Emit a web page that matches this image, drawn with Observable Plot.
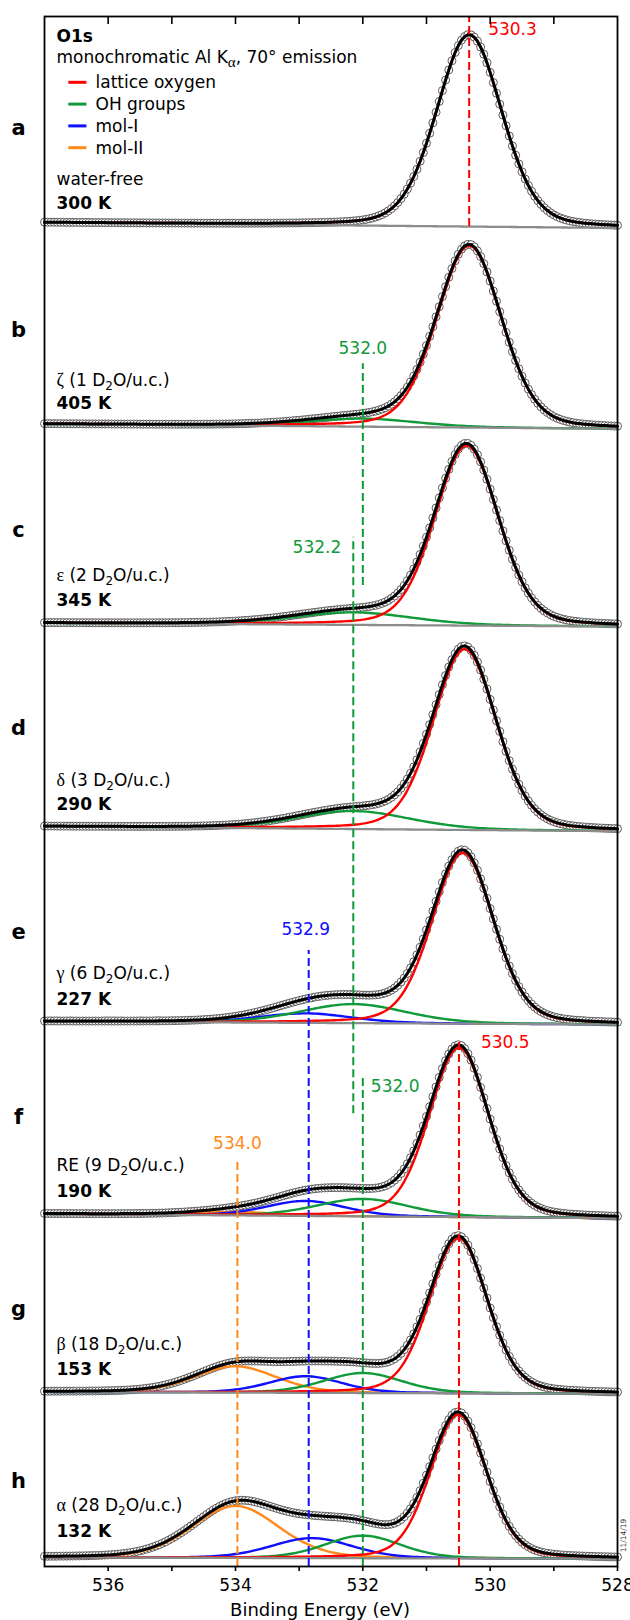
<!DOCTYPE html>
<html>
<head>
<meta charset="utf-8">
<script src="https://cdn.jsdelivr.net/npm/d3@7"></script>
<script src="https://cdn.jsdelivr.net/npm/@observablehq/plot@0.6"></script>
<style>
  html, body { margin: 0; padding: 0; background: #fff; }
  svg { display: block; }
</style>
</head>
<body>
<div id="chart"></div>
<script>
// ---------------- data ----------------
const panels = ["a", "b", "c", "d", "e", "f", "g", "h"];
const samples = ["water-free", "ζ (1 D2O/u.c.)", "ε (2 D2O/u.c.)", "δ (3 D2O/u.c.)",
                 "γ (6 D2O/u.c.)", "RE (9 D2O/u.c.)", "β (18 D2O/u.c.)", "α (28 D2O/u.c.)"];
const temperatures = ["300 K", "405 K", "345 K", "290 K", "227 K", "190 K", "153 K", "132 K"];

// stacked intensity (arbitrary units) of the background at 537 eV and at 528 eV
const backgroundStart = [1344, 1142.5, 943.5, 740, 545, 352.5, 174.5, 9];
const backgroundEnd   = [1338.5, 1137.7, 940, 735.3, 542, 348.3, 172.7, 7.7];

// fitted components: centre (eV), height (a.u.), FWHM (eV)
const latticeCenter = [530.33, 530.33, 530.37, 530.40, 530.43, 530.49, 530.50, 530.50];
const latticeHeight = [192, 182, 180, 181, 171, 169.5, 155.5, 144];
const latticeWidth  = [1.21, 1.2, 1.18, 1.17, 1.14, 1.1, 1.07, 1.04];

const ohCenter = [null, 532.0, 532.15, 532.15, 532.15, 532.0, 532.0, 532.0];
const ohHeight = [0, 8, 12.5, 18, 19, 17.4, 20, 22.6];
const ohWidth  = [null, 2.0, 2.2, 2.1, 1.95, 1.7, 1.45, 1.4];

const mol1Center = [null, null, null, null, 532.9, 532.9, 532.9, 532.8];
const mol1Height = [0, 0, 0, 0, 9.5, 15, 16.6, 20];
const mol1Width  = [null, null, null, null, 1.7, 1.45, 1.35, 1.5];

const mol2Center = [null, null, null, null, null, 534.0, 534.0, 534.0];
const mol2Height = [0, 0, 0, 0, 0, 3.5, 26.3, 52];
const mol2Width  = [null, null, null, null, null, 1.5, 1.5, 1.6];

const componentNames = ["lattice oxygen", "OH groups", "mol-I", "mol-II"];

// marked peak positions
const markerEnergy = [530.33, 532.0, 532.15, 532.85, 530.49, 532.0, 533.97];
const markerText = ["530.3", "532.0", "532.2", "532.9", "530.5", "532.0", "534.0"];
const markerComponent = ["lattice oxygen", "OH groups", "OH groups", "mol-I", "lattice oxygen", "OH groups", "mol-II"];

const xTicks = [536, 535, 534, 533, 532, 531, 530, 529, 528];
const xTickLabels = [536, 534, 532, 530, 528];

// ---------------- styling / layout ----------------
const colors = {"lattice oxygen": "#ff0000", "OH groups": "#109a3a", "mol-I": "#1010ff", "mol-II": "#ff8a1a"};
const font = "DejaVu Sans, Verdana, sans-serif";
const eta = 0.22; // Lorentzian fraction of the pseudo-Voigt fit line shape

const markerLayout = [
  {y1: 1340, y2: 1550, ly: 1536.7, dx: 19, anchor: "start"},
  {y1: 981, y2: 1202.7, ly: 1217.7, dx: 0, anchor: "middle"},
  {y1: 452.7, y2: 1029.3, ly: 1019.3, dx: -12, anchor: "end"},
  {y1: 0, y2: 616, ly: 636.7, dx: -3, anchor: "middle"},
  {y1: 0, y2: 527.7, ly: 524.3, dx: 22, anchor: "start"},
  {y1: 0, y2: 490, ly: 480.3, dx: 8, anchor: "start"},
  {y1: 0, y2: 404.3, ly: 422.7, dx: 0, anchor: "middle"}
];
const letterOffset = [94.3, 93.5, 92.5, 98, 89.3, 96.8, 83.2, 76.3];
const nameOffset = [42.7, 43.5, 47.5, 46, 47.7, 48.5, 47.5, 52];
const tempOffset = [18.7, 20.2, 22.5, 22, 21.7, 22.8, 22.2, 26.3];

// ---------------- build series ----------------
const comps = [
  {name: "lattice oxygen", c: latticeCenter, h: latticeHeight, w: latticeWidth},
  {name: "OH groups", c: ohCenter, h: ohHeight, w: ohWidth},
  {name: "mol-I", c: mol1Center, h: mol1Height, w: mol1Width},
  {name: "mol-II", c: mol2Center, h: mol2Height, w: mol2Width}
];
function lineShape(E, c, h, w) {
  if (!h) return 0;
  const t = (E - c) / w;
  return h * ((1 - eta) * Math.exp(-4 * Math.LN2 * t * t) + eta / (1 + 4 * t * t));
}
function background(i, E) {
  return backgroundStart[i] + (backgroundEnd[i] - backgroundStart[i]) * (537 - E) / 9;
}
const energies = d3.range(0, 181).map(k => +(537 - k * 0.05).toFixed(2));

const fitRows = [], bgRows = [], compRows = [];
panels.forEach((p, i) => {
  energies.forEach(E => {
    const b = background(i, E);
    let total = b;
    bgRows.push({panel: p, E, y: b});
    comps.forEach(cm => {
      if (!cm.h[i]) return;
      const v = lineShape(E, cm.c[i], cm.h[i], cm.w[i]);
      total += v;
      compRows.push({panel: p, comp: cm.name, E, y: b + v});
    });
    fitRows.push({panel: p, E, y: total});
  });
});
const compOrder = ["mol-II", "mol-I", "OH groups", "lattice oxygen"];
compRows.sort((a, b) => compOrder.indexOf(a.comp) - compOrder.indexOf(b.comp));

const markers = markerEnergy.map((E, k) => ({E, text: markerText[k], comp: markerComponent[k], ...markerLayout[k]}));

const marks = [
  Plot.dot(fitRows, {x: "E", y: "y", r: 4, fill: "white", stroke: "#4a4a4a", strokeWidth: 0.9}),
  Plot.line(compRows, {x: "E", y: "y", z: d => d.panel + d.comp, stroke: d => colors[d.comp], strokeWidth: 2.4}),
  Plot.line(bgRows, {x: "E", y: "y", z: "panel", stroke: "#8c8c8c", strokeWidth: 2.3}),
  Plot.line(fitRows, {x: "E", y: "y", z: "panel", stroke: "black", strokeWidth: 3}),
  Plot.ruleX(markers, {x: "E", y1: "y1", y2: "y2", stroke: d => colors[d.comp], strokeWidth: 2, strokeDasharray: "8,4"}),
  ...markers.map(m => Plot.text([m], {x: "E", y: "ly", text: "text", dx: m.dx, textAnchor: m.anchor,
      fill: colors[m.comp], fontSize: 17, lineAnchor: "middle"})),
  Plot.text(panels, {x: () => 537, y: (d, i) => backgroundStart[i] + letterOffset[i], text: d => d,
      dx: -26, fontSize: 21, fontWeight: "bold", lineAnchor: "middle"}),
  Plot.text(samples, {x: () => 537, y: (d, i) => backgroundStart[i] + nameOffset[i], text: d => d,
      dx: 12, textAnchor: "start", fontSize: 17, lineAnchor: "middle"}),
  Plot.text(temperatures, {x: () => 537, y: (d, i) => backgroundStart[i] + tempOffset[i], text: d => d,
      dx: 12, textAnchor: "start", fontSize: 17, fontWeight: "bold", lineAnchor: "middle"}),
  Plot.text(["O1s"], {frameAnchor: "top-left", dx: 12, dy: 20, fontSize: 17, fontWeight: "bold", lineAnchor: "middle", textAnchor: "start"}),
  Plot.text(["monochromatic Al Kα, 70° emission"], {frameAnchor: "top-left", dx: 12, dy: 40.7, fontSize: 17, lineAnchor: "middle", textAnchor: "start"}),
  ...componentNames.map((n, k) => Plot.text([n], {frameAnchor: "top-left", dx: 51, dy: 66.3 + 21.8 * k,
      fontSize: 17, lineAnchor: "middle", textAnchor: "start"})),
  Plot.ruleX(xTicks.filter(d => d > 528 && d < 537), {x: d => d, y1: 1550, y2: 1542, stroke: "black", strokeWidth: 1.6}),
  Plot.frame({stroke: "black", strokeWidth: 1.8}),
  Plot.axisX({anchor: "bottom", ticks: xTicks, tickSize: 5, tickPadding: 7, strokeWidth: 1.6,
      tickFormat: d => xTickLabels.includes(d) ? String(d) : "", fontSize: 17, label: null}),
  Plot.text(["Binding Energy (eV)"], {frameAnchor: "bottom", dx: -11, dy: 44, fontSize: 18, lineAnchor: "middle"}),
  Plot.text(["11/14/19"], {frameAnchor: "bottom-right", dx: 6.5, dy: -31, rotate: -90, fontSize: 7.5,
      textAnchor: "middle", lineAnchor: "middle", fill: "#333"})
];

const chart = Plot.plot({
  width: 630,
  height: 1620,
  marginLeft: 44,
  marginRight: 13,
  marginTop: 16,
  marginBottom: 54,
  x: {domain: [537, 528], axis: null},
  y: {domain: [0, 1550], axis: null},
  style: {fontFamily: font, fontSize: "17px", color: "black", background: "white"},
  marks
});

// legend swatches
const svg = d3.select(chart);
componentNames.forEach((n, k) => {
  svg.append("line")
    .attr("x1", 68.3).attr("x2", 86.4)
    .attr("y1", 82.3 + 21.8 * k).attr("y2", 82.3 + 21.8 * k)
    .attr("stroke", colors[n]).attr("stroke-width", 3);
});

// subscripts and Greek letters
function segmentsOf(s) {
  const out = [];
  let rest = s;
  if (/^[αβγδεζ]/.test(rest)) { out.push({t: rest[0], serif: true}); rest = rest.slice(1); }
  let i = rest.indexOf("D2O");
  if (i >= 0) {
    out.push({t: rest.slice(0, i + 1)}); out.push({t: "2", sub: true}); out.push({t: rest.slice(i + 2)});
    return out;
  }
  i = rest.indexOf("Kα");
  if (i >= 0) {
    out.push({t: rest.slice(0, i + 1)}); out.push({t: "α", sub: true, serif: true}); out.push({t: rest.slice(i + 2)});
    return out;
  }
  out.push({t: rest});
  return out;
}
chart.querySelectorAll("text").forEach(el => {
  const s = el.textContent;
  if (!(s.includes("D2O") || s.includes("Kα"))) return;
  const segs = segmentsOf(s);
  while (el.firstChild) el.removeChild(el.firstChild);
  let shifted = false;
  segs.forEach(sg => {
    const ts = document.createElementNS("http://www.w3.org/2000/svg", "tspan");
    ts.textContent = sg.t;
    if (sg.serif) ts.setAttribute("font-family", "Liberation Serif, serif");
    if (sg.sub) { ts.setAttribute("font-size", sg.serif ? "15" : "12"); ts.setAttribute("dy", "4"); shifted = true; }
    else if (shifted) { ts.setAttribute("dy", "-4"); shifted = false; }
    if (sg.serif && !sg.sub) ts.setAttribute("font-size", "18");
    el.appendChild(ts);
  });
});

document.getElementById("chart").appendChild(chart);
</script>
</body>
</html>
